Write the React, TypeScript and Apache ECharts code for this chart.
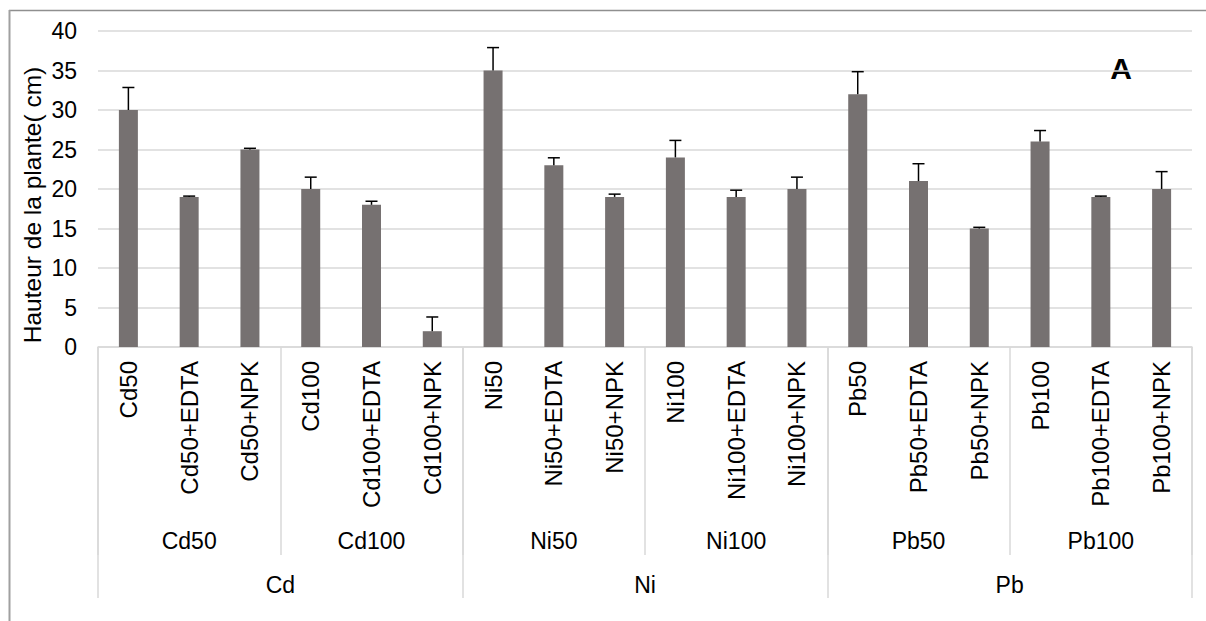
import React, { useEffect, useRef } from "react";
import * as echarts from "echarts";

const leafLabels = [
  "Cd50", "Cd50+EDTA", "Cd50+NPK", "Cd100", "Cd100+EDTA", "Cd100+NPK",
  "Ni50", "Ni50+EDTA", "Ni50+NPK", "Ni100", "Ni100+EDTA", "Ni100+NPK",
  "Pb50", "Pb50+EDTA", "Pb50+NPK", "Pb100", "Pb100+EDTA", "Pb100+NPK",
];
const subGroups = ["Cd50", "Cd100", "Ni50", "Ni100", "Pb50", "Pb100"];
const groups = ["Cd", "Ni", "Pb"];
const heights = [30, 19, 25, 20, 18, 2, 35, 23, 19, 24, 19, 20, 32, 21, 15, 26, 19, 20];
const errPlus = [2.85, 0.1, 0.15, 1.5, 0.45, 1.8, 2.9, 0.95, 0.35, 2.15, 0.85, 1.5, 2.85, 2.2, 0.15, 1.4, 0.1, 2.2];
const yTicks = { min: 0, max: 40, interval: 5 };
const yTitle = "Hauteur de la plante( cm)";

const FONT = "'Liberation Sans', Arial, sans-serif";

export default function App() {
  const ref = useRef<HTMLDivElement>(null);
  useEffect(() => {
    if (!ref.current) return;
    const chart = echarts.init(ref.current, undefined, { renderer: "svg" });
    const errData = heights.map((h, i) => [i, h, h + errPlus[i]]);
    chart.setOption({
      animation: false,
      backgroundColor: "#ffffff",
      textStyle: { fontFamily: FONT },
      grid: { left: 98, right: 14, top: 31, bottom: 274 },
      xAxis: [
        {
          type: "category",
          data: leafLabels,
          position: "bottom",
          axisLine: { show: true, lineStyle: { color: "#d9d9d9", width: 1.5 } },
          axisTick: { show: false },
          axisLabel: {
            rotate: 90,
            interval: 0,
            margin: 14,
            fontSize: 24,
            color: "#000000",
            fontFamily: FONT,
          },
        },
        {
          type: "category",
          data: subGroups,
          position: "bottom",
          axisLine: { show: false },
          axisTick: { show: true, length: 208, interval: 0, lineStyle: { color: "#d9d9d9", width: 1.5 } },
          axisLabel: { interval: 0, margin: 182, fontSize: 23, color: "#000000", fontFamily: FONT },
          splitLine: { show: false },
        },
        {
          type: "category",
          data: groups,
          position: "bottom",
          axisLine: { show: false },
          axisTick: { show: true, length: 251, interval: 0, lineStyle: { color: "#d9d9d9", width: 1.5 } },
          axisLabel: { interval: 0, margin: 226, fontSize: 23, color: "#000000", fontFamily: FONT },
          splitLine: { show: false },
        },
      ],
      yAxis: {
        type: "value",
        min: yTicks.min,
        max: yTicks.max,
        interval: yTicks.interval,
        axisLine: { show: false },
        axisTick: { show: false },
        axisLabel: { margin: 21, fontSize: 23, color: "#000000", fontFamily: FONT },
        splitLine: { lineStyle: { color: "#d9d9d9", width: 1.5 } },
      },
      series: [
        {
          type: "bar",
          data: heights,
          barWidth: 19,
          itemStyle: { color: "#767171" },
          xAxisIndex: 0,
        },
        {
          type: "custom",
          xAxisIndex: 0,
          data: errData,
          z: 10,
          renderItem: (params: any, api: any) => {
            const x = api.value(0);
            const low = api.coord([x, api.value(1)]);
            const high = api.coord([x, api.value(2)]);
            const half = 6;
            const style = { stroke: "#000000", lineWidth: 1.5 };
            return {
              type: "group",
              children: [
                { type: "line", shape: { x1: low[0], y1: low[1], x2: high[0], y2: high[1] }, style },
                { type: "line", shape: { x1: high[0] - half, y1: high[1], x2: high[0] + half, y2: high[1] }, style },
              ],
            };
          },
        },
      ],
      graphic: [
        { type: "line", shape: { x1: 9, y1: 10.5, x2: 1206, y2: 10.5 }, style: { stroke: "#8f8f8f", lineWidth: 1.5 } },
        { type: "line", shape: { x1: 9.5, y1: 10, x2: 9.5, y2: 621 }, style: { stroke: "#a0a0a0", lineWidth: 2 } },
        {
          type: "text",
          x: 32,
          y: 205,
          rotation: Math.PI / 2,
          style: {
            text: yTitle,
            fontSize: 24.5,
            fontFamily: FONT,
            fill: "#000000",
            align: "center",
            verticalAlign: "middle",
          },
        },
        {
          type: "text",
          x: 1121,
          y: 68,
          style: {
            text: "A",
            fontSize: 30,
            fontWeight: "bold",
            fontFamily: FONT,
            fill: "#000000",
            align: "center",
            verticalAlign: "middle",
          },
        },
      ],
    });
    return () => chart.dispose();
  }, []);
  return (
    <div
      ref={ref}
      style={{ position: "fixed", left: 0, top: 0, width: 1206, height: 621 }}
    />
  );
}
